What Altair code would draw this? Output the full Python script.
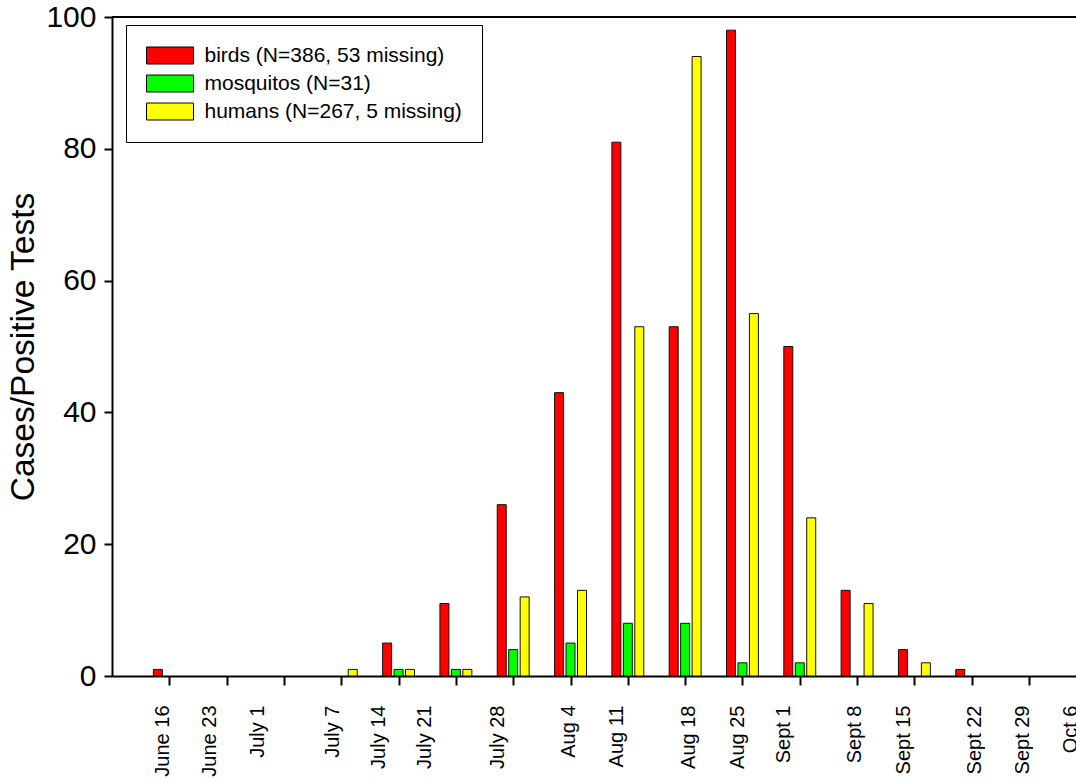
import json

import altair as alt
import pandas as pd

# Weekly counts of positive results (week starting dates)
weeks = ["June 16", "June 23", "July 1", "July 7", "July 14", "July 21", "July 28",
         "Aug 4", "Aug 11", "Aug 18", "Aug 25", "Sept 1", "Sept 8", "Sept 15",
         "Sept 22", "Sept 29", "Oct 6"]
birds = [1, 0, 0, 0, 5, 11, 26, 43, 81, 53, 98, 50, 13, 4, 1, 0, 0]
mosquitos = [0, 0, 0, 0, 1, 1, 4, 5, 8, 8, 2, 2, 0, 0, 0, 0, 0]
humans = [0, 0, 0, 1, 1, 1, 12, 13, 53, 94, 55, 24, 11, 2, 0, 0, 0]

series = ["birds (N=386, 53 missing)", "mosquitos (N=31)", "humans (N=267, 5 missing)"]
colors = ["#ff0000", "#00ff00", "#ffff00"]

# Hand-placed horizontal nudges (px) for the rotated week labels
label_nudge = [-7, -17, -26, -9, -20, -31, -16, -2, -11, 3, -5, -16, -3, -11, 3, -7, -16]

rows = []
for s_i, (name, vals) in enumerate(zip(series, [birds, mosquitos, humans])):
    for w_i, v in enumerate(vals):
        rows.append({"week": w_i, "slot": s_i - 1, "series": name, "count": v})
df = pd.DataFrame(rows)

FONT = "Liberation Sans"
label_expr = json.dumps(weeks) + "[datum.value]"
nudge_expr = json.dumps(label_nudge) + "[datum.value]"

x_scale = alt.Scale(domain=[-1, 16.5], nice=False, zero=False, padding=0)
y_scale = alt.Scale(domain=[0, 100], nice=False)

y_axis = alt.Axis(
    values=[0, 20, 40, 60, 80, 100], grid=False, tickSize=8, tickWidth=2,
    domainWidth=2, domainColor="black", tickColor="black",
    labelFont=FONT, labelFontSize=30, labelColor="black", labelPadding=8,
    title="Cases/Positive Tests", titleFont=FONT, titleFontSize=33.5,
    titleFontWeight="normal", titleColor="black", titlePadding=5,
)

bars = (
    alt.Chart(df)
    .transform_filter("datum.count > 0")
    .transform_calculate(pos="datum.week + 0.2 * datum.slot")
    .mark_bar(size=9, orient="vertical", stroke="#111111", strokeWidth=1)
    .encode(
        x=alt.X(
            "pos:Q", scale=x_scale,
            axis=alt.Axis(
                values=list(range(len(weeks))), labelExpr=label_expr,
                labelAngle=-90, grid=False, tickSize=9, tickWidth=2,
                domainWidth=2, domainColor="black", tickColor="black",
                labelFont=FONT, labelFontSize=20, labelColor="black",
                labelPadding=20, labelOffset=alt.ExprRef(nudge_expr), title=None,
            ),
        ),
        y=alt.Y("count:Q", scale=y_scale, axis=y_axis),
        fill=alt.Fill(
            "series:N",
            scale=alt.Scale(domain=series, range=colors),
            legend=alt.Legend(
                orient="none", legendX=14, legendY=8, title=None,
                # wide flat swatch drawn from a custom path
                symbolType="M-4.7,-1.7L4.7,-1.7L4.7,1.7L-4.7,1.7Z",
                symbolSize=100, symbolOffset=13.5,
                symbolStrokeColor="black", symbolStrokeWidth=1, symbolOpacity=1,
                labelFont=FONT, labelFontSize=21, labelColor="black",
                labelOffset=24, labelLimit=500, rowPadding=6, padding=20,
                strokeColor="black", fillColor="white",
            ),
        ),
    )
)

# Top frame line of the plot area
frame_top = (
    alt.Chart(pd.DataFrame({"count": [100]}))
    .mark_rule(color="black", strokeWidth=2)
    .encode(y=alt.Y("count:Q", scale=y_scale, axis=y_axis))
)

chart = (
    alt.layer(bars, frame_top)
    .properties(
        width=1003, height=659,
        padding={"left": 112, "top": 17, "right": -39, "bottom": 103},
        autosize=alt.AutoSizeParams(type="none"),
        background="white",
    )
    .configure_view(stroke=None)
)

chart.save("out.html", embed_options={"renderer": "svg", "actions": False})
